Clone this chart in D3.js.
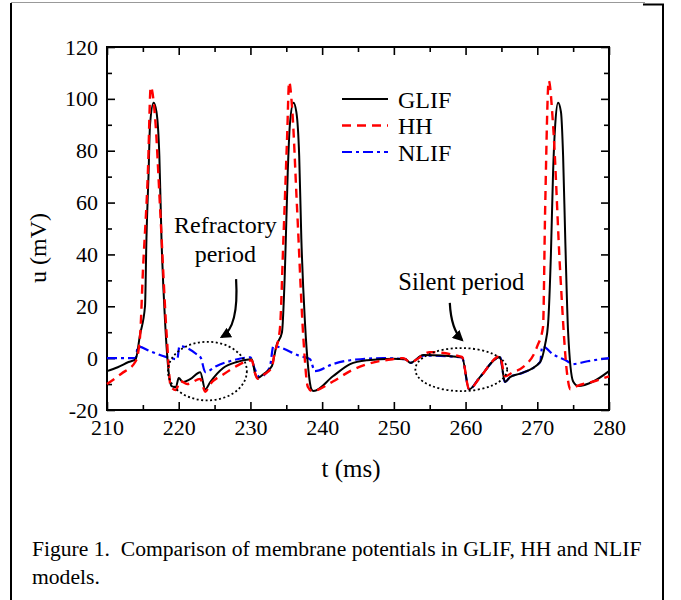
<!DOCTYPE html>
<html>
<head>
<meta charset="utf-8">
<script src="https://cdn.jsdelivr.net/npm/d3@7"></script>
<style>
  html, body { margin: 0; padding: 0; background: #fff; }
  svg { display: block; font-family: "Liberation Serif", "Times New Roman", serif; }
  .tick text { font-family: "Liberation Serif", serif; fill: #000; }
  .tick line { stroke: #000; stroke-width: 1.6; }
  .domain { display: none; }
</style>
</head>
<body>
<svg id="chart" width="681" height="600"></svg>
<script>
// --- data (t in ms, u in mV) ---
const glifT = [210, 211.5, 213, 214, 214.6, 215.3, 215.5, 215.8, 216.0, 216.5, 216.9, 217.3, 217.6, 218.1, 218.6, 219.0,
  219.6, 220.0, 220.6, 221.6, 223.0, 223.7, 224.4, 226.2, 228.1, 230.2, 230.6, 231.0, 231.8, 233.0, 233.3, 233.6,
  234.4, 234.8, 235.2, 235.5, 236.0, 236.4, 236.8, 237.1, 237.6, 238.1, 238.5, 238.8, 241.5, 243.9, 246.3, 249.9,
  251.6, 252.3, 254.1, 259.5, 260.5, 262.0, 264.8, 265.5, 266.2, 267.6, 270.4, 271.1, 271.5, 271.9, 272.2, 272.5,
  272.9, 273.3, 273.6, 273.9, 274.3, 275.0, 275.7, 277.8, 280];
const glifU = [-5, -3.5, -1.5, -0.4, 9, 20, 46, 71.5, 90, 98.5, 95, 78, 46, 14, -5.4, -10.8,
  -11.2, -7.7, -9.2, -8.1, -5.4, -12, -9.2, -3.8, -1.5, -0.4, -5.4, -7.7, -6.2, -3, 0.5, 4.5,
  10, 33, 71.5, 90, 98.5, 95, 78, 46, 14, -5, -12, -12.7, -7, -2.3, -0.8, -0.2,
  -0.4, -1.8, 1.2, 0.3, -12, -7.3, 0.4, -9.2, -7.3, -6, -1.5, 5.4, 13, 40, 71.5, 90,
  98.5, 95, 78, 46, 10, -9, -10.7, -9, -5];

const hhT = [210, 212, 214, 214.6, 215.0, 215.7, 216.1, 216.7, 217.4, 218.3, 218.9, 219.6, 220.2, 221.2, 223.0, 223.7,
  224.4, 226.2, 228.1, 230.2, 230.6, 231.0, 231.8, 233.0, 233.3, 234.1, 234.6, 235.1, 235.4, 235.8, 236.5, 237.4,
  238.0, 238.6, 241.5, 243.9, 246.3, 249.9, 251.3, 252.3, 255.0, 259.5, 260.5, 262.0, 264.8, 265.5, 266.6, 268.0,
  270.0, 270.8, 271.1, 271.6, 272.2, 273.2, 274.2, 274.6, 275.6, 277.8, 280];
const hhU = [-10, -6, -1.2, 8, 33, 71.5, 104.6, 93, 58, 10, -11, -12.3, -8.8, -10, -8, -13,
  -10, -6.3, -3, -0.8, -5.4, -8, -6.5, -3.5, 1, 11, 46, 84, 106.5, 97, 58, 7,
  -11, -12.7, -9, -5, -2.3, -0.4, 0, -1.5, 2.3, 0.5, -12, -7.5, 0.8, -7, -5.4, -3.5,
  4.6, 12, 58, 107, 90, 33, -7, -12, -10.7, -9, -7];

const nlifT = [210, 214.0, 214.3, 216.0, 218.3, 219.8, 220.1, 222.5, 223.1, 223.7, 225.3, 227.6, 230.0, 230.6, 231.3, 232.7,
  233.2, 236.9, 238.3, 239.0, 241.5, 243.9, 248.5, 251.6, 252.3, 254.1, 259.5, 260.5, 262.0, 264.8, 265.5, 266.2,
  267.6, 270.4, 270.7, 272.2, 274.2, 274.9, 277.0, 280];
const nlifU = [0, 0, 4.5, 2.7, 0.4, -0.4, 4.6, 1.5, 0, -5.4, -3, -0.8, 0.3, -4.2, -7.3, -3.5,
  4.6, 0.8, -0.4, -5, -2.3, -0.8, 0, -0.4, -1.8, 1, 0.3, -12, -7.3, 0.4, -9.2, -7.3,
  -6, -1.5, 4.6, 1.5, -1.2, -2.3, -1.2, 0];

const seriesNames = ["GLIF", "HH", "NLIF"];
const xTicks = [210, 220, 230, 240, 250, 260, 270, 280];
const yTicks = [-20, 0, 20, 40, 60, 80, 100, 120];

const svg = d3.select("#chart");
const W = 681, H = 600;

// outer figure frame
svg.append("line").attr("x1", 11).attr("x2", 645).attr("y1", 2.5).attr("y2", 2.5)
  .attr("stroke", "#999").attr("stroke-width", 1);
svg.append("line").attr("x1", 11).attr("x2", 11).attr("y1", 3).attr("y2", H)
  .attr("stroke", "#000").attr("stroke-width", 2);
svg.append("path").attr("d", `M643,4.5H663V${H}`)
  .attr("fill", "none").attr("stroke", "#000").attr("stroke-width", 2);

const plot = {left: 107, right: 609, top: 47, bottom: 410};
const x = d3.scaleLinear().domain([210, 280]).range([plot.left, plot.right]);
const y = d3.scaleLinear().domain([-20, 120]).range([plot.bottom, plot.top]);

const minorX = d3.range(215, 280, 10);
const minorY = d3.range(-10, 120, 20);
const fmt = d => String(d); // plain hyphen for negatives

// axes with inward ticks on all four sides
svg.append("g").attr("transform", `translate(0,${plot.bottom})`)
  .call(d3.axisBottom(x).tickValues(xTicks).tickSize(-8).tickPadding(9).tickFormat(fmt))
  .selectAll("text").style("font-size", "22px");
svg.append("g").attr("transform", `translate(0,${plot.bottom})`)
  .call(d3.axisBottom(x).tickValues(minorX).tickSize(-5).tickFormat(""));
svg.append("g").attr("transform", `translate(0,${plot.top})`)
  .call(d3.axisTop(x).tickValues(xTicks).tickSize(-8).tickFormat(""));
svg.append("g").attr("transform", `translate(0,${plot.top})`)
  .call(d3.axisTop(x).tickValues(minorX).tickSize(-5).tickFormat(""));

svg.append("g").attr("transform", `translate(${plot.left},0)`)
  .call(d3.axisLeft(y).tickValues(yTicks).tickSize(-8).tickPadding(9).tickFormat(fmt))
  .selectAll("text").style("font-size", "22px");
svg.append("g").attr("transform", `translate(${plot.left},0)`)
  .call(d3.axisLeft(y).tickValues(minorY).tickSize(-5).tickFormat(""));
svg.append("g").attr("transform", `translate(${plot.right},0)`)
  .call(d3.axisRight(y).tickValues(yTicks).tickSize(-8).tickFormat(""));
svg.append("g").attr("transform", `translate(${plot.right},0)`)
  .call(d3.axisRight(y).tickValues(minorY).tickSize(-5).tickFormat(""));

svg.append("rect")
  .attr("x", plot.left).attr("y", plot.top)
  .attr("width", plot.right - plot.left).attr("height", plot.bottom - plot.top)
  .attr("fill", "none").attr("stroke", "#000").attr("stroke-width", 2);

// axis titles
svg.append("text").attr("x", 351).attr("y", 477)
  .attr("text-anchor", "middle").style("font-size", "25px").text("t (ms)");
svg.append("text").attr("transform", "translate(46,248) rotate(-90)")
  .attr("text-anchor", "middle").style("font-size", "24px").text("u (mV)");

// curves
const styles = {
  GLIF: {color: "#000", width: 2, dash: null},
  HH: {color: "#ff0000", width: 2.4, dash: "9,6"},
  NLIF: {color: "#0000ff", width: 2.2, dash: "10,4,3,4"}
};
const seriesData = {
  GLIF: glifT.map((t, i) => [t, glifU[i]]),
  HH: hhT.map((t, i) => [t, hhU[i]]),
  NLIF: nlifT.map((t, i) => [t, nlifU[i]])
};
const line = d3.line().x(d => x(d[0])).y(d => y(d[1])).curve(d3.curveMonotoneX);

["NLIF", "GLIF", "HH"].forEach(name => {
  svg.append("path")
    .datum(seriesData[name])
    .attr("d", line)
    .attr("fill", "none")
    .attr("stroke", styles[name].color)
    .attr("stroke-width", styles[name].width)
    .attr("stroke-dasharray", styles[name].dash)
    .attr("stroke-linejoin", "round");
});

// legend
const legend = svg.append("g");
seriesNames.forEach((name, i) => {
  const yy = 99 + i * 26.5;
  legend.append("line")
    .attr("x1", 342).attr("x2", 388).attr("y1", yy).attr("y2", yy)
    .attr("stroke", styles[name].color)
    .attr("stroke-width", styles[name].width)
    .attr("stroke-dasharray", styles[name].dash);
  legend.append("text").attr("x", 398).attr("y", yy).attr("dy", "0.36em")
    .style("font-size", "24px").text(name);
});

// annotations
const defs = svg.append("defs");
defs.append("marker")
  .attr("id", "arrowhead")
  .attr("viewBox", "0 -5 10 10")
  .attr("refX", 8).attr("refY", 0)
  .attr("markerWidth", 5).attr("markerHeight", 5)
  .attr("markerUnits", "strokeWidth")
  .attr("orient", "auto")
  .append("path").attr("d", "M0,-5L10,0L0,5z").attr("fill", "#000");

const ann = svg.append("g");
ann.append("text").attr("x", x(226.5)).attr("y", y(48.3))
  .attr("text-anchor", "middle").style("font-size", "24px").text("Refractory");
ann.append("text").attr("x", x(226.5)).attr("y", y(37.1))
  .attr("text-anchor", "middle").style("font-size", "24px").text("period");
ann.append("text").attr("x", x(259.4)).attr("y", y(26.3))
  .attr("text-anchor", "middle").style("font-size", "24.5px").text("Silent period");

ann.append("path")
  .attr("d", `M${x(228)},${y(30.5)} Q${x(228.4)},${y(12)} ${x(226.0)},${y(8.2)}`)
  .attr("fill", "none").attr("stroke", "#000").attr("stroke-width", 2.2)
  .attr("marker-end", "url(#arrowhead)");
ann.append("path")
  .attr("d", `M${x(257.8)},${y(21.3)} Q${x(258)},${y(11)} ${x(259.5)},${y(7)}`)
  .attr("fill", "none").attr("stroke", "#000").attr("stroke-width", 2.2)
  .attr("marker-end", "url(#arrowhead)");

ann.append("ellipse")
  .attr("cx", x(224)).attr("cy", y(-5))
  .attr("rx", x(229.5) - x(224)).attr("ry", y(-5) - y(6.3))
  .attr("fill", "none").attr("stroke", "#000").attr("stroke-width", 1.8)
  .attr("stroke-dasharray", "2,2.5");
ann.append("ellipse")
  .attr("cx", x(259.4)).attr("cy", y(-4.4))
  .attr("rx", x(265.8) - x(259.4)).attr("ry", y(-4.4) - y(3.9))
  .attr("fill", "none").attr("stroke", "#000").attr("stroke-width", 1.8)
  .attr("stroke-dasharray", "2,2.5");

// caption
svg.append("text").attr("x", 32).attr("y", 556).style("font-size", "21.6px")
  .attr("xml:space", "preserve")
  .text("Figure 1.  Comparison of membrane potentials in GLIF, HH and NLIF");
svg.append("text").attr("x", 32).attr("y", 584).style("font-size", "21.6px").text("models.");
</script>
</body>
</html>
